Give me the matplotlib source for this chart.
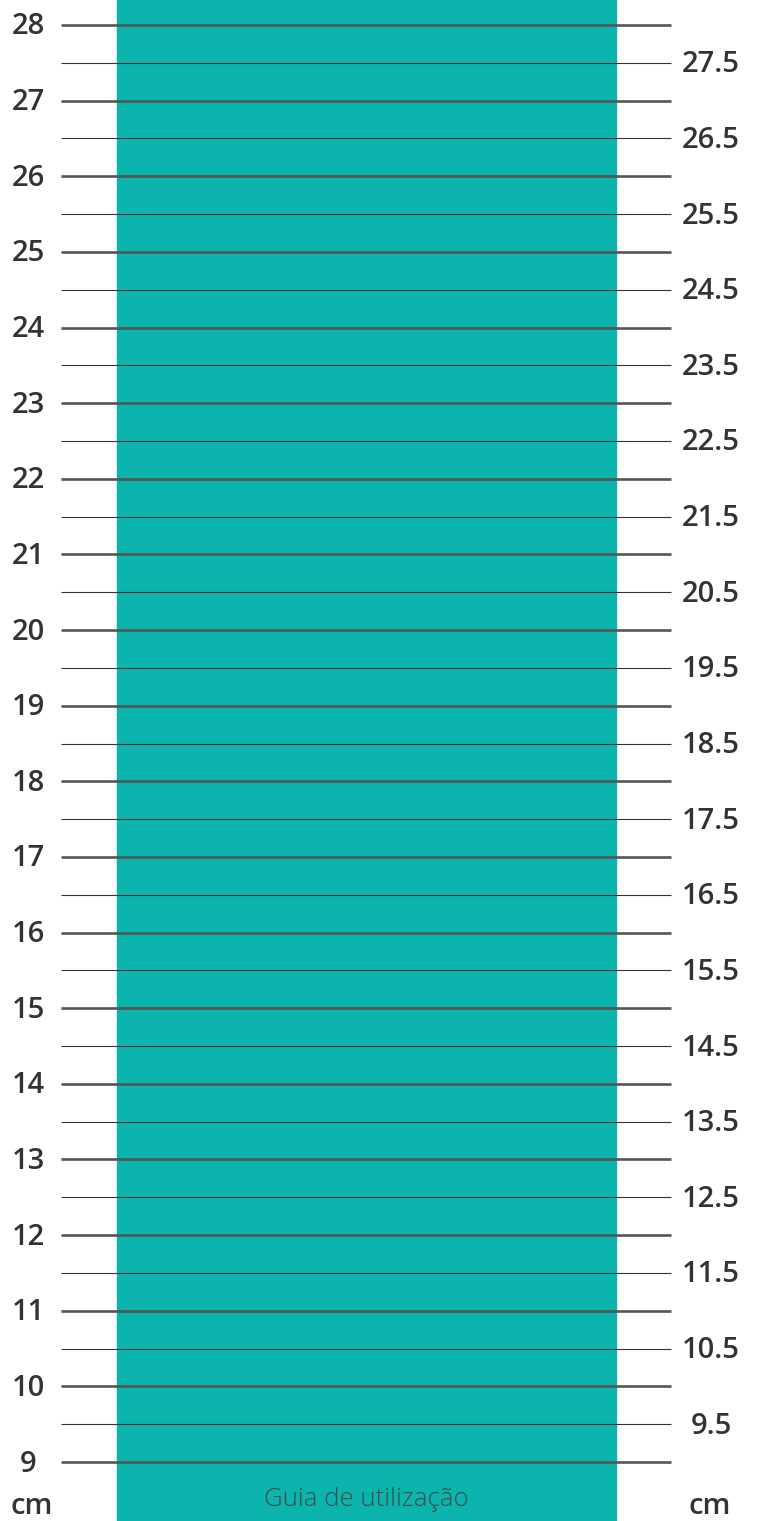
import matplotlib
import matplotlib.pyplot as plt

matplotlib.use('Agg')

# scale values (cm)
whole_cm = list(range(9, 29))
half_cm = [v + 0.5 for v in range(9, 28)]
left_labels = [str(v) for v in whole_cm]
right_labels = [f"{v:.1f}" for v in half_cm]
unit_label = "cm"
caption = ["Guia de utilização", "da palmilha"]

TEAL = '#0bb5ad'
TEXT = '#333333'

fig = plt.figure(figsize=(7.61, 15.21), dpi=100)
ax = fig.add_axes([0, 0, 1, 1])
ax.set_xlim(0, 761)
# 28 cm at 25 px from top, 9 cm at 1462 px
px_per_cm = (1462 - 25) / 19
ax.set_ylim(9 - (1521 - 1462) / px_per_cm, 28 + 25 / px_per_cm)
ax.axis('off')

# teal strip
ax.axvspan(117, 616, color=TEAL, zorder=1)

# rule lines
ax.hlines(whole_cm, 61, 671, color='#555555', linewidth=1.9, zorder=2)
ax.hlines(half_cm, 61, 671, color='#333333', linewidth=0.8, zorder=2)

font = dict(family=['Open Sans', 'DejaVu Sans'], color=TEXT, weight='semibold', fontsize=21)
dy = 2 / px_per_cm  # small nudge down so digits sit on the line centre

for v, lab in zip(whole_cm, left_labels):
    ax.text(28, v - dy, lab, ha='center', va='center', **font)
for v, lab in zip(half_cm, right_labels):
    ax.text(711, v - dy, lab, ha='center', va='center', **font)

# units at the bottom
y_unit = 9 - (1506 - 1462) / px_per_cm
ax.text(32, y_unit, unit_label, ha='center', va='center', **font)
ax.text(710, y_unit, unit_label, ha='center', va='center', **font)

# caption in the strip (second line cut by the bottom edge, as in the source)
cap_font = dict(family=['Open Sans', 'DejaVu Sans'], weight='light', fontsize=18.5, color='#3d4f4e')
ax.text(366, 9 - (1500 - 1462) / px_per_cm, caption[0], ha='center', va='center', **cap_font)
ax.text(366, 9 - (1534 - 1462) / px_per_cm, caption[1], ha='center', va='center', **cap_font)

fig.savefig('out.png', dpi=100)
plt.close(fig)
